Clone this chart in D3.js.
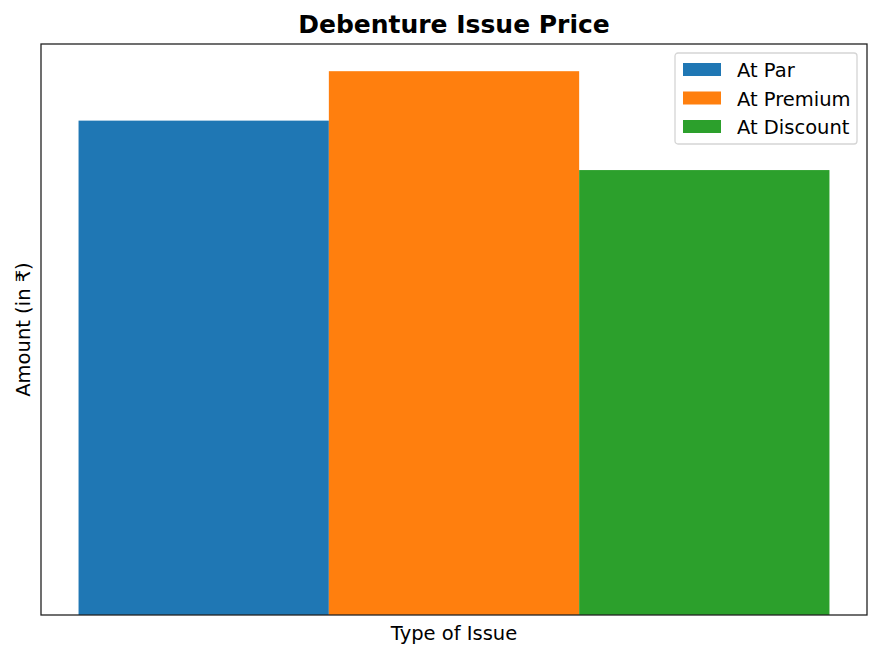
<!DOCTYPE html>
<html>
<head>
<meta charset="utf-8">
<script src="https://cdn.jsdelivr.net/npm/d3@7"></script>
<style>
  body { margin: 0; background: #fff; }
  text { font-family: "DejaVu Sans", sans-serif; fill: #000; }
</style>
</head>
<body>
<div id="chart"></div>
<script>
const categories = ['At Par', 'At Premium', 'At Discount'];
const values = [100, 110, 90];
const offsets = [-0.25, 0, 0.25];
const colors = ['#1f77b4', '#ff7f0e', '#2ca02c'];

const width = 882, height = 657;
const margins = { top: 44, right: 15, bottom: 42, left: 41 };
const innerW = width - margins.left - margins.right;
const innerH = height - margins.top - margins.bottom;
const barWidth = 0.25;

const svg = d3.select('#chart').append('svg')
  .attr('width', width)
  .attr('height', height);

const x = d3.scaleLinear().domain([-0.4125, 0.4125]).range([0, innerW]);
const y = d3.scaleLinear().domain([0, d3.max(values) * 1.05]).range([innerH, 0]);

const g = svg.append('g').attr('transform', `translate(${margins.left},${margins.top})`);

g.selectAll('rect.bar')
  .data(categories.map((c, i) => ({ c, v: values[i], o: offsets[i], color: colors[i] })))
  .join('rect')
  .attr('class', 'bar')
  .attr('x', d => x(d.o - barWidth / 2))
  .attr('width', d => x(d.o + barWidth / 2) - x(d.o - barWidth / 2))
  .attr('y', d => y(d.v))
  .attr('height', d => y(0) - y(d.v))
  .attr('fill', d => d.color);

// frame
g.append('rect')
  .attr('width', innerW).attr('height', innerH)
  .attr('fill', 'none').attr('stroke', '#222').attr('stroke-width', 1.3);

svg.append('text')
  .attr('x', margins.left + innerW / 2).attr('y', 33)
  .attr('text-anchor', 'middle')
  .style('font-size', '25px').style('font-weight', 'bold')
  .text('Debenture Issue Price');

svg.append('text')
  .attr('x', margins.left + innerW / 2).attr('y', 640)
  .attr('text-anchor', 'middle')
  .style('font-size', '19.5px')
  .text('Type of Issue');

svg.append('text')
  .attr('transform', `translate(30,${margins.top + innerH / 2}) rotate(-90)`)
  .attr('text-anchor', 'middle')
  .style('font-size', '19.5px')
  .text('Amount (in ₹)');

// legend
const legend = svg.append('g').attr('transform', 'translate(675,53)');
legend.append('rect')
  .attr('width', 182).attr('height', 91).attr('rx', 3)
  .attr('fill', '#fff').attr('fill-opacity', 0.8)
  .attr('stroke', '#d5d5d5').attr('stroke-width', 1.3);
const items = legend.selectAll('g.item')
  .data(categories)
  .join('g')
  .attr('class', 'item')
  .attr('transform', (d, i) => `translate(8,${17 + i * 28.5})`);
items.append('rect')
  .attr('y', -7).attr('width', 38).attr('height', 13)
  .attr('fill', (d, i) => colors[i]);
items.append('text')
  .attr('x', 54).attr('y', 7)
  .style('font-size', '19.5px')
  .text(d => d);
</script>
</body>
</html>
